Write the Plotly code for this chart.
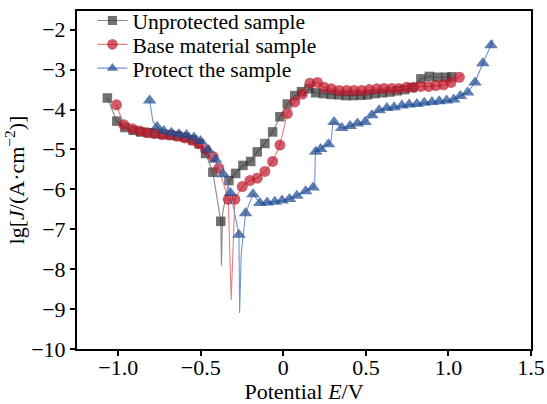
import plotly.graph_objects as go

# ---- data (E in V, lg J) ; mark = 1 where a marker is drawn ----
unprot_x = [-1.066, -1.009, -0.96, -0.91, -0.865, -0.82, -0.775, -0.73, -0.685, -0.64, -0.595, -0.55, -0.51,
            -0.471, -0.427, -0.379, -0.375, -0.368, -0.33, -0.289, -0.245, -0.198, -0.158, -0.112, -0.065,
            -0.021, 0.024, 0.069, 0.11, 0.155, 0.196, 0.243, 0.29, 0.335, 0.38, 0.425, 0.47, 0.51, 0.555,
            0.60, 0.645, 0.69, 0.735, 0.78, 0.833, 0.884, 0.934, 0.985, 1.02]
unprot_y = [-3.71, -4.29, -4.45, -4.52, -4.56, -4.58, -4.60, -4.62, -4.64, -4.66, -4.70, -4.76, -4.86,
            -5.10, -5.57, -6.80, -7.91, -6.60, -5.78, -5.60, -5.40, -5.30, -5.06, -4.85, -4.56,
            -4.18, -3.86, -3.65, -3.55, -3.48, -3.58, -3.60, -3.62, -3.63, -3.65, -3.65, -3.64, -3.63, -3.60,
            -3.58, -3.56, -3.53, -3.50, -3.45, -3.23, -3.17, -3.19, -3.19, -3.18]
unprot_m = [1, 1, 1, 1, 1, 1, 1, 1, 1, 1, 1, 1, 1,
            1, 1, 1, 0, 0, 1, 1, 1, 1, 1, 1, 1,
            1, 1, 1, 1, 1, 1, 1, 1, 1, 1, 1, 1, 1, 1,
            1, 1, 1, 1, 1, 1, 1, 1, 1, 1]

base_x = [-1.011, -0.967, -0.916, -0.87, -0.825, -0.781, -0.734, -0.688, -0.643, -0.597, -0.552, -0.512,
          -0.471, -0.425, -0.391, -0.334, -0.316, -0.294, -0.249, -0.203, -0.158, -0.112, -0.065, -0.021,
          0.024, 0.069, 0.115, 0.161, 0.206, 0.246, 0.291, 0.337, 0.384, 0.428, 0.475, 0.52, 0.566, 0.61,
          0.657, 0.70, 0.748, 0.79, 0.833, 0.88, 0.924, 0.97, 1.015, 1.066, 1.086]
base_y = [-3.88, -4.38, -4.48, -4.54, -4.58, -4.60, -4.63, -4.64, -4.67, -4.71, -4.77, -4.85,
          -5.00, -5.18, -5.47, -6.25, -8.77, -6.25, -5.93, -5.78, -5.72, -5.55, -5.30, -4.89,
          -4.10, -3.81, -3.61, -3.34, -3.32, -3.44, -3.48, -3.52, -3.52, -3.52, -3.52, -3.50, -3.48, -3.47,
          -3.47, -3.47, -3.44, -3.44, -3.42, -3.42, -3.40, -3.38, -3.32, -3.19, -3.11]
base_m = [1, 1, 1, 1, 1, 1, 1, 1, 1, 1, 1, 1,
          1, 1, 1, 1, 0, 1, 1, 1, 1, 1, 1, 1,
          1, 1, 1, 1, 1, 1, 1, 1, 1, 1, 1, 1, 1, 1,
          1, 1, 1, 1, 1, 1, 1, 1, 1, 1, 0]

prot_x = [-0.81, -0.80, -0.79, -0.765, -0.724, -0.678, -0.633, -0.587, -0.542, -0.502, -0.457, -0.411,
          -0.364, -0.32, -0.269, -0.265, -0.255, -0.229, -0.184, -0.142, -0.098, -0.052, -0.008, 0.037,
          0.082, 0.135, 0.18, 0.19, 0.193, 0.196, 0.226, 0.273, 0.29, 0.30, 0.307, 0.354, 0.404, 0.449,
          0.495, 0.536, 0.58, 0.627, 0.671, 0.718, 0.762, 0.809, 0.853, 0.90, 0.944, 0.989, 1.032, 1.072,
          1.116, 1.161, 1.208, 1.258, 1.27]
prot_y = [-3.77, -4.05, -4.30, -4.43, -4.54, -4.58, -4.62, -4.64, -4.70, -4.79, -5.01, -5.26,
          -5.62, -6.09, -7.14, -9.10, -7.60, -6.60, -6.12, -6.34, -6.33, -6.31, -6.28, -6.24,
          -6.16, -6.05, -5.95, -5.90, -5.20, -5.06, -4.99, -4.87, -4.75, -4.35, -4.31, -4.46, -4.41, -4.35,
          -4.31, -4.14, -4.02, -3.96, -3.94, -3.90, -3.87, -3.86, -3.83, -3.81, -3.79, -3.77, -3.75, -3.66,
          -3.57, -3.32, -2.84, -2.39, -2.25]
prot_m = [1, 0, 0, 1, 1, 1, 1, 1, 1, 1, 1, 1,
          1, 1, 1, 0, 0, 1, 1, 1, 1, 1, 1, 1,
          1, 1, 1, 0, 0, 1, 1, 1, 0, 0, 1, 1, 1, 1,
          1, 1, 1, 1, 1, 1, 1, 1, 1, 1, 1, 1, 1, 1,
          1, 1, 1, 1, 0]

x_ticks = [-1.0, -0.5, 0, 0.5, 1.0, 1.5]
x_tick_text = ["\u22121.0", "\u22120.5", "0", "0.5", "1.0", "1.5"]
y_ticks = [-10, -9, -8, -7, -6, -5, -4, -3, -2]
y_tick_text = ["\u221210", "\u22129", "\u22128", "\u22127", "\u22126", "\u22125", "\u22124", "\u22123", "\u22122"]

series = [
    ("Unprotected sample", unprot_x, unprot_y, unprot_m, "square", 9.5, "#333333", "#8a8a8a", "legend"),
    ("Base material sample", base_x, base_y, base_m, "circle", 11, "#be1628", "#e58080", "legend2"),
    ("Protect the sample", prot_x, prot_y, prot_m, "triangle-up", 12, "#1b4890", "#7393d4", "legend3"),
]

fig = go.Figure()
for name, xs, ys, ms, sym, sz, mc, lc, lg in series:
    fig.add_trace(go.Scatter(
        x=xs, y=ys, name=name, mode="lines+markers", legend=lg,
        line=dict(color=lc, width=1.1),
        marker=dict(symbol=sym, size=[sz * m for m in ms], color=mc, line=dict(width=0)),
    ))

FONT = "Liberation Serif, Times New Roman, serif"
leg_common = dict(x=0.034, xanchor="left", yanchor="top", bgcolor="rgba(0,0,0,0)",
                  font=dict(family=FONT, size=21.5), tracegroupgap=0, itemwidth=30)
fig.update_layout(
    width=547, height=416,
    margin=dict(l=77, r=16, t=20, b=55),
    paper_bgcolor="white", plot_bgcolor="white",
    font=dict(family=FONT, size=22, color="black"),
    showlegend=True,
    legend=dict(y=1.0323, **leg_common),
    legend2=dict(y=0.9619, **leg_common),
    legend3=dict(y=0.8915, **leg_common),
)
fig.update_xaxes(
    range=[-1.25, 1.5], tickvals=x_ticks, ticktext=x_tick_text, automargin=False,
    showgrid=False, zeroline=False, showline=True, linecolor="black", linewidth=2, mirror=True,
    ticks="outside", ticklen=5, tickwidth=1.5, tickcolor="black", ticklabelstandoff=-7,
    title=dict(text="Potential <i>E</i>/V", font=dict(size=22), standoff=8),
)
fig.update_yaxes(
    range=[-10, -1.53], tickvals=y_ticks, ticktext=y_tick_text, automargin=False,
    showgrid=False, zeroline=False, showline=True, linecolor="black", linewidth=2, mirror=True,
    ticks="outside", ticklen=5, tickwidth=1.5, tickcolor="black",
    title=dict(text="lg[<i>J</i>/(A\u00b7cm<sup>\u22122</sup>)]", font=dict(size=22), standoff=0),
)

fig.write_html(
    "out.html",
    config={"displayModeBar": False},
    post_script="document.body.style.margin='0px';document.body.style.marginTop='-12px';",
)
